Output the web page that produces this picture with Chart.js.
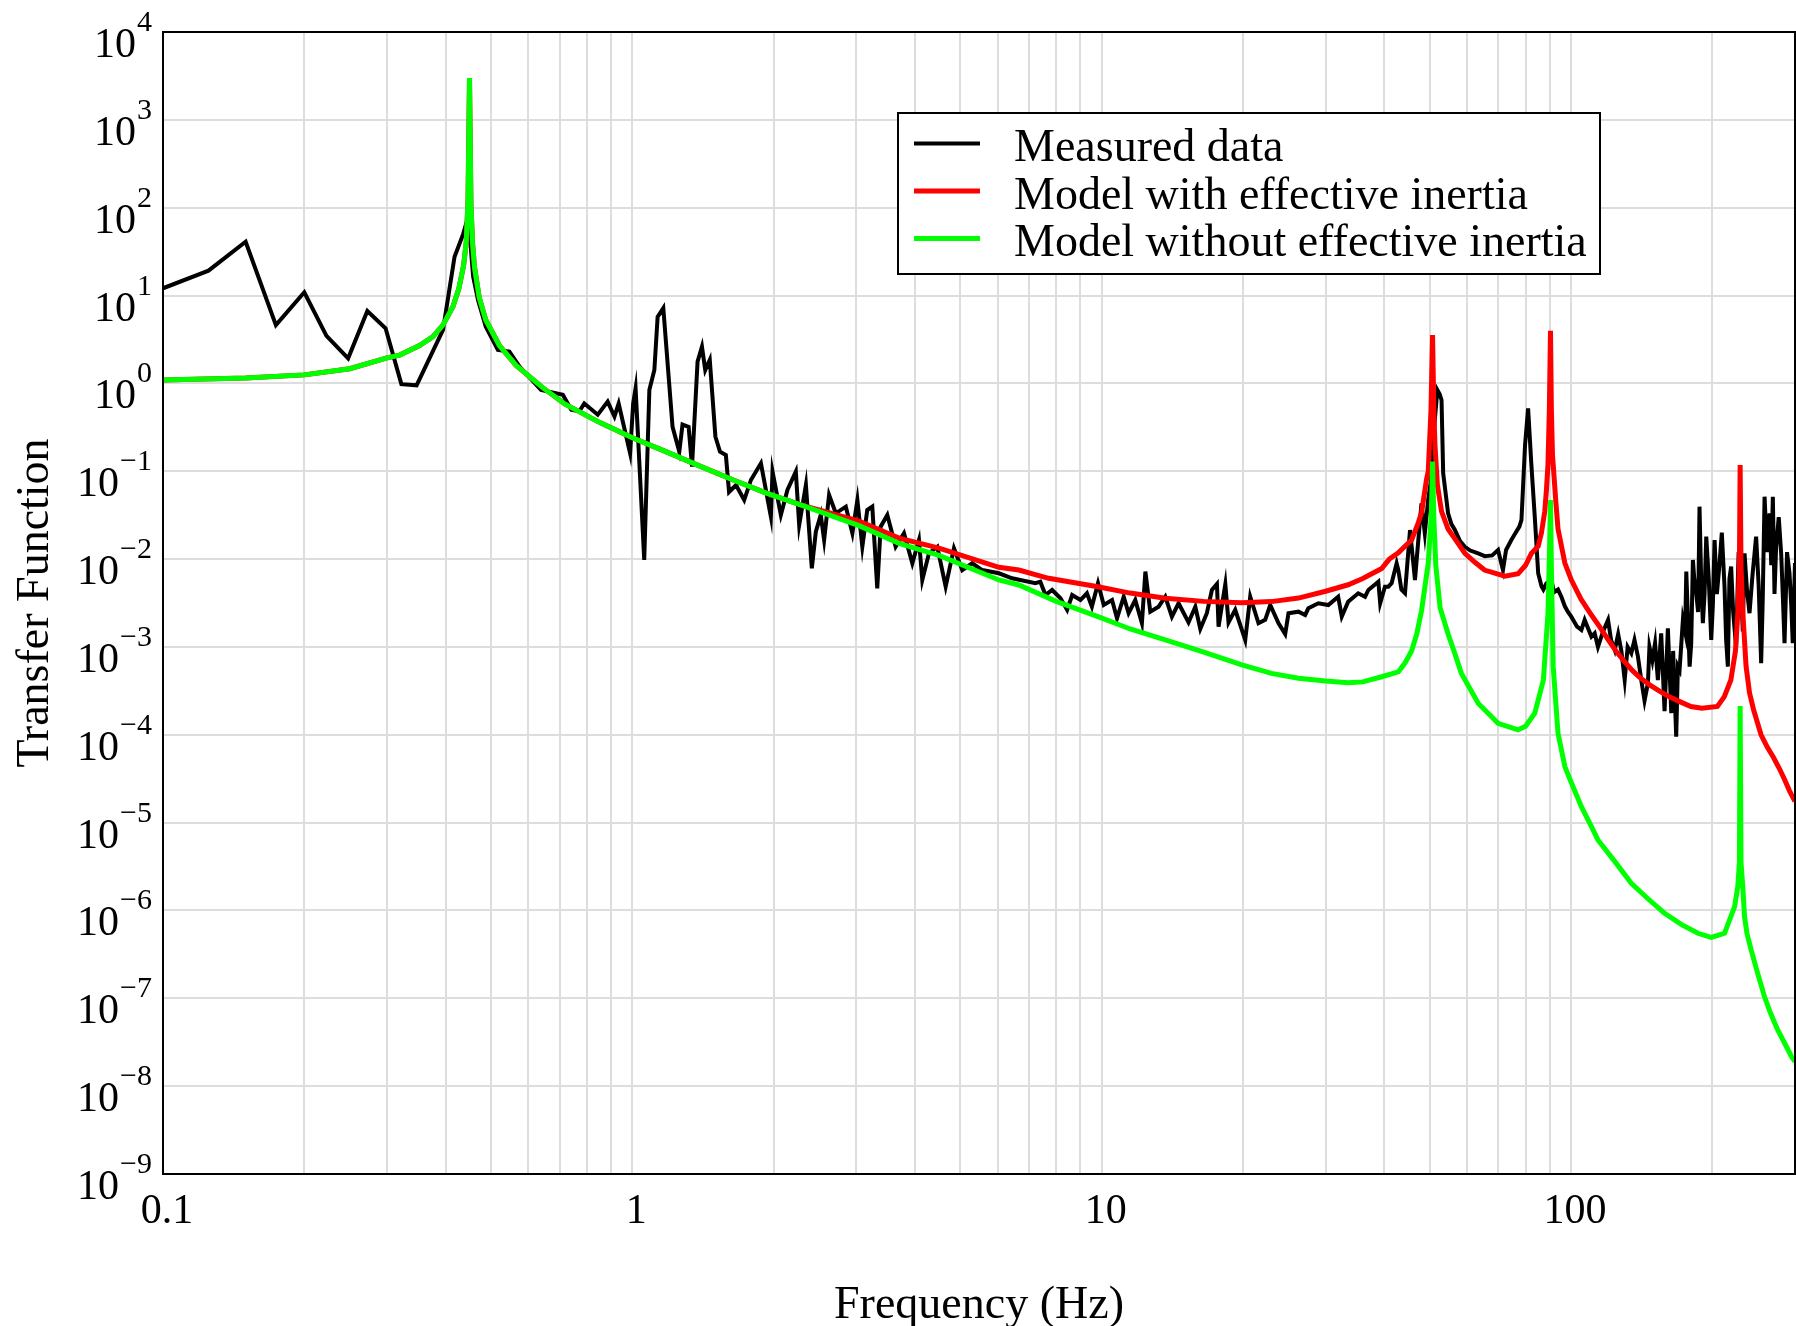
<!DOCTYPE html>
<html>
<head>
<meta charset="utf-8">
<script src="https://cdn.jsdelivr.net/npm/chart.js@4.4.1/dist/chart.umd.min.js"></script>
<style>
  html, body { margin: 0; padding: 0; background: #fff; }
</style>
</head>
<body>
<canvas id="tfChart" width="1796" height="1326"></canvas>
<script>
// axis ticks
const xGridValues = [0.1, 0.2, 0.3, 0.4, 0.5, 0.6, 0.7, 0.8, 0.9, 1, 2, 3, 4, 5, 6, 7, 8, 9,
  10, 20, 30, 40, 50, 60, 70, 80, 90, 100, 200, 300];
const xLabelValues = [0.1, 1, 10, 100];
const xLabelText = ['0.1', '1', '10', '100'];
const yTickValues = [1e4, 1e3, 1e2, 1e1, 1e0, 1e-1, 1e-2, 1e-3, 1e-4, 1e-5, 1e-6, 1e-7, 1e-8, 1e-9];
const yTickExponents = ['4', '3', '2', '1', '0', '\u22121', '\u22122', '\u22123', '\u22124', '\u22125', '\u22126', '\u22127', '\u22128', '\u22129'];

// measured transfer function
const measuredFreq = [0.1, 0.125, 0.15, 0.174, 0.2, 0.223, 0.248, 0.2725, 0.298, 0.322, 0.347, 0.395, 0.418, 0.436, 0.447,
  0.458, 0.469, 0.487, 0.517, 0.547, 0.575, 0.639, 0.711, 0.741, 0.771, 0.79, 0.844, 0.886, 0.916, 0.935, 0.989,
  1.004, 1.016, 1.06, 1.087, 1.114, 1.132, 1.164, 1.218, 1.259, 1.279, 1.318, 1.34, 1.377, 1.407, 1.43, 1.462,
  1.503, 1.537, 1.582, 1.607, 1.663, 1.731, 1.789, 1.879, 1.973, 1.989, 2.072, 2.14, 2.23, 2.267, 2.343, 2.412,
  2.46, 2.52, 2.562, 2.625, 2.713, 2.85, 2.943, 3.016, 3.09, 3.166, 3.245, 3.325, 3.381, 3.493, 3.639, 3.791,
  3.949, 4.08, 4.147, 4.285, 4.464, 4.651, 4.844, 5.045, 5.297, 5.564, 6.04, 6.443, 7.225, 7.4, 7.59, 7.84,
  8.17, 8.44, 8.65, 9.01, 9.3, 9.53, 9.82, 10.1, 10.52, 10.78, 11.14, 11.41, 11.79, 12.18, 12.39, 12.69, 13.22,
  13.66, 14.11, 14.58, 15.31, 15.83, 16.22, 16.75, 17.17, 17.6, 17.74, 18.34, 18.63, 19.25, 20.22, 20.72, 21.58,
  22.3, 22.86, 23.81, 24.6, 25.0, 26.25, 27.13, 27.56, 28.95, 30.4, 31.9, 32.47, 33.5, 35.2, 36.4, 37.0, 38.85,
  39.2, 40.13, 40.8, 41.46, 42.5, 42.85, 43.5, 44.28, 45.38, 46.5, 47.27, 48.0, 48.8, 49.6, 50.3, 50.9, 51.9,
  52.5, 52.97, 53.4, 54.7, 55.6, 56.57, 58, 59.4, 61, 63.4, 65.5, 67.9, 69.9, 71.6, 72.7, 74.6, 75.8, 77.6,
  78.4, 79.8, 81, 82.3, 83.7, 85.1, 86.5, 87.3, 88.6, 90.8, 92, 93.8, 95.4, 97, 98.5, 100.1, 103, 105.2, 106.9,
  110.5, 112.3, 114.1, 117, 119.9, 121.7, 123.9, 126, 128, 130.1, 132, 134.4, 136.5, 138.8, 141.1, 143.4,
  145.8, 146.9, 149, 151, 153.1, 155.6, 158.2, 160.8, 163.5, 165, 167.5, 168.9, 170.3, 173.1, 175, 176, 178.9,
  180.3, 181.8, 183, 184.8, 186.5, 187.8, 189.3, 190.9, 192.5, 194.1, 196.5, 198.9, 200.5, 202.2, 204.5, 207.2,
  209.5, 212.3, 214, 215.8, 217.5, 219.3, 221.5, 224.7, 227.5, 230.2, 232.2, 234.2, 237, 240, 243.5, 247.9, 251,
  254.1, 256, 258.4, 261.5, 264.8, 267, 269.1, 271.3, 273.5, 277, 280.3, 282.5, 285, 288.5, 292, 294.5, 296.7, 300];
const measuredTF = [12.1, 19.2, 41, 4.6, 10.9, 3.47, 1.93, 6.67, 4.24, 0.98, 0.95, 4.06, 27.7, 50, 79,
  16.4, 8.9, 4.43, 2.4, 2.3, 1.55, 0.84, 0.74, 0.5, 0.48, 0.59, 0.44, 0.62, 0.42, 0.59, 0.16,
  0.59, 0.88, 0.0098, 0.84, 1.42, 5.7, 7.2, 0.32, 0.167, 0.34, 0.32, 0.113, 1.77, 2.62, 1.42, 1.85,
  0.247, 0.167, 0.153, 0.058, 0.0697, 0.047, 0.0795, 0.123, 0.0304, 0.0989, 0.0318, 0.0612, 0.0989, 0.0244, 0.0697, 0.00785,
  0.0205, 0.0318, 0.0165, 0.0537, 0.0332, 0.0395, 0.0197, 0.047, 0.0138, 0.0362, 0.0395, 0.00465, 0.0234, 0.0318, 0.0138, 0.0197,
  0.00896, 0.0165, 0.00578, 0.01164, 0.0138, 0.00485, 0.0133, 0.0075, 0.00896, 0.0075, 0.00689, 0.00604, 0.00531, 0.00553, 0.0039, 0.00445,
  0.00358, 0.00264, 0.0039, 0.00342, 0.00408, 0.00287, 0.00531, 0.003, 0.00342, 0.00212, 0.00373, 0.00242, 0.00342, 0.00186, 0.0072, 0.00252, 0.00287,
  0.00373, 0.00221, 0.00314, 0.0019, 0.00287, 0.0016, 0.00242, 0.00445, 0.0052, 0.0017, 0.0052, 0.0019, 0.00264, 0.0012, 0.00373, 0.00186,
  0.00203, 0.003, 0.00186, 0.0014, 0.00242, 0.00252, 0.00231, 0.00275, 0.00314, 0.003, 0.00373, 0.00221, 0.00327, 0.00408, 0.00373, 0.00445, 0.00553,
  0.00314, 0.00485, 0.00485, 0.00531, 0.00896, 0.0075, 0.0045, 0.00408, 0.0214, 0.00578, 0.0165, 0.043, 0.0197, 0.047, 0.0795, 0.25, 0.84,
  0.75, 0.647, 0.0948, 0.0332, 0.025, 0.0214, 0.016, 0.0138, 0.0125, 0.0116, 0.0108, 0.011, 0.0127, 0.0075, 0.0127, 0.0165, 0.019, 0.0234,
  0.028, 0.2, 0.52, 0.12, 0.03, 0.0069, 0.0049, 0.0045, 0.0053, 0.0058, 0.0042, 0.0045, 0.0037, 0.0029, 0.0025, 0.00221, 0.0017, 0.00156, 0.00203,
  0.00131, 0.00143, 0.001, 0.0015, 0.00203, 0.0012, 0.00092, 0.0014, 0.0009, 0.00042, 0.001, 0.000847, 0.0012, 0.00078, 0.00042, 0.000244,
  0.000386, 0.001, 0.0007, 0.0011, 0.00042, 0.00143, 0.000186, 0.00163, 0.000176, 0.0009, 0.000095, 0.0006, 0.000547, 0.00203, 0.0015, 0.0072, 0.000596,
  0.0011, 0.00977, 0.006, 0.00408, 0.0025, 0.0395, 0.006, 0.00186, 0.004, 0.018, 0.006, 0.0012, 0.003, 0.0165, 0.004, 0.00896,
  0.02, 0.00485, 0.0012, 0.000596, 0.006, 0.0082, 0.0025, 0.001, 0.012, 0.00485, 0.0015, 0.01164, 0.0045, 0.00242, 0.0065, 0.018, 0.005,
  0.000652, 0.0032, 0.0513, 0.012, 0.0332, 0.0085, 0.0513, 0.004, 0.0138, 0.03, 0.01164, 0.004, 0.0011, 0.012, 0.00689, 0.003, 0.0011, 0.009];

// model with effective inertia
const inertiaFreq = [0.1, 0.15, 0.2, 0.25, 0.3, 0.3193, 0.352, 0.376, 0.3948, 0.4148, 0.4269, 0.437, 0.4426, 0.4465,
  0.4498, 0.453, 0.4565, 0.461, 0.4717, 0.487, 0.5209, 0.5655, 0.6432, 0.7189, 0.8509, 1.0, 1.179, 1.389, 1.636,
  1.918, 2.267, 3.04, 3.7, 4.5, 6.04, 6.66, 7.71, 9.82, 11.5, 13.66, 16.5, 19.89, 23, 26.25, 30, 33.5, 36, 39.5, 41,
  42.85, 44.28, 45.73, 47.27, 48.03, 49.2, 49.63, 50.3, 50.69, 51.0, 51.29, 51.9, 52.97, 54.7, 56.57, 59.4, 62.4,
  65.4, 72.3, 77.1, 80, 82.3, 85.1, 86.5, 87.9, 88.6, 89.3, 89.9, 90.4, 90.8, 91.3, 91.6, 92.8, 93.8, 97, 100.1, 105,
  110, 115, 120, 125, 130, 135, 140, 147, 155, 162, 170, 180, 190, 205, 212, 219, 224, 226.6, 228.4, 229.2, 230.2,
  232.3, 236, 240, 245, 254, 262, 270, 278, 285, 292, 300];
const inertiaTF = [1.09, 1.15, 1.25, 1.47, 1.95, 2.1, 2.7, 3.4, 4.6, 7.5, 12, 22, 40, 120,
  3000, 110, 40, 21, 9.5, 5.3, 2.7, 1.6, 0.9, 0.58, 0.36, 0.24, 0.167, 0.115, 0.08,
  0.057, 0.042, 0.027, 0.0173, 0.0133, 0.00807, 0.0075, 0.00604, 0.00485, 0.0041, 0.00358, 0.0033, 0.00319, 0.00328, 0.0036, 0.0043, 0.0051, 0.006, 0.0078, 0.01,
  0.0118, 0.014, 0.0165, 0.026, 0.034, 0.08, 0.1, 0.5, 3.56, 0.5, 0.2, 0.07, 0.035, 0.022, 0.017, 0.0116, 0.0092,
  0.0075, 0.0064, 0.0068, 0.0085, 0.0116, 0.014, 0.02, 0.035, 0.06, 0.12, 0.5, 3.98, 0.5, 0.15, 0.12, 0.045, 0.022, 0.009, 0.0058, 0.0035,
  0.0024, 0.0017, 0.0012, 0.00088, 0.00068, 0.00054, 0.00045, 0.00037, 0.00031, 0.00027, 0.00024, 0.00021, 0.0002, 0.00021, 0.00027, 0.00042, 0.0009, 0.0024, 0.0082, 0.118, 0.0082,
  0.0024, 0.0006, 0.0003, 0.00019, 0.0001, 0.000072, 0.000055, 0.000041, 0.000031, 0.000023, 0.0000175];

// model without effective inertia
const noInertiaFreq = [0.1, 0.15, 0.2, 0.25, 0.3, 0.3193, 0.352, 0.376, 0.3948, 0.4148, 0.4269, 0.437, 0.4426, 0.4465,
  0.4498, 0.453, 0.4565, 0.461, 0.4717, 0.487, 0.5209, 0.5655, 0.6432, 0.7189, 0.8509, 1.0, 1.179, 1.389, 1.636,
  1.918, 2.267, 3.04, 3.7, 4.5, 6.04, 6.66, 8, 9.82, 11.5, 13.66, 16.5, 19.89, 23, 26.25, 30, 33.5, 36, 39.5, 42.85,
  44.3, 45.73, 46.9, 48.03, 49.63, 50.4, 50.69, 51.0, 51.5, 52.6, 54.7, 56.5, 58.4, 63.4, 69.9, 77.1, 80, 83.7, 87.3,
  89.3, 90.0, 90.4, 90.8, 91.6, 93.8, 97, 100, 105.2, 110, 114.1, 124, 134.4, 146, 158.2, 172, 186.4, 198.9, 212.3,
  223, 226.6, 228.4, 229.2, 230.2, 232.3, 234.2, 237, 241.9, 250, 258.3, 266, 275.6, 285, 295, 300];
const noInertiaTF = [1.09, 1.15, 1.25, 1.47, 1.95, 2.1, 2.7, 3.4, 4.6, 7.5, 12, 22, 40, 120,
  3000, 110, 40, 21, 9.5, 5.3, 2.7, 1.6, 0.9, 0.58, 0.36, 0.24, 0.167, 0.115, 0.08,
  0.057, 0.042, 0.024, 0.0151, 0.011, 0.00578, 0.00507, 0.0033, 0.00221, 0.0016, 0.0012, 0.00087, 0.000624, 0.0005, 0.00044, 0.00041, 0.000392, 0.0004, 0.000458, 0.00052,
  0.00066, 0.0009, 0.0014, 0.0026, 0.009, 0.033, 0.1285, 0.03, 0.0085, 0.0028, 0.0014, 0.00085, 0.0005, 0.000229, 0.000135, 0.000114, 0.000125, 0.000176, 0.00042,
  0.0024, 0.0138, 0.047, 0.008, 0.0006, 0.000104, 4.34e-5, 2.9e-5, 1.52e-5, 9.5e-6, 6.35e-6, 3.6e-6, 2.04e-6, 1.35e-6, 9.3e-7, 6.9e-7, 5.5e-7, 4.95e-7, 5.5e-7,
  1.1e-6, 1.87e-6, 3.5e-6, 2.13e-4, 3.5e-6, 1.8e-6, 8.5e-7, 5.5e-7, 3.55e-7, 1.9e-7, 1.04e-7, 6.8e-8, 4.37e-8, 3.1e-8, 2.17e-8, 1.9e-8];

const serif = '"Liberation Serif", "DejaVu Serif", serif';
Chart.defaults.font.family = serif;
Chart.defaults.color = '#000';

function toPoints(freqs, values) {
  return freqs.map((f, i) => ({x: f, y: values[i]}));
}

// frame, y labels with exponents, boxed legend
const decorations = {
  id: 'decorations',
  afterDraw(chart) {
    const c = chart.ctx;
    const area = chart.chartArea;
    const yAxis = chart.scales.y;
    c.save();
    c.strokeStyle = '#000';
    c.lineWidth = 2;
    c.strokeRect(area.left, area.top, area.right - area.left, area.bottom - area.top);

    c.fillStyle = '#000';
    c.textAlign = 'right';
    c.textBaseline = 'alphabetic';
    yTickValues.forEach((v, i) => {
      const py = yAxis.getPixelForValue(v);
      const right = area.left - 11;
      c.font = '30px ' + serif;
      const expWidth = c.measureText(yTickExponents[i]).width;
      c.fillText(yTickExponents[i], right, py - 1);
      c.font = '42px ' + serif;
      c.fillText('10', right - expWidth - 1, py + 25);
    });

    const box = {left: 898, top: 113, right: 1600, bottom: 274};
    c.fillStyle = '#fff';
    c.fillRect(box.left, box.top, box.right - box.left, box.bottom - box.top);
    c.strokeStyle = '#000';
    c.lineWidth = 2;
    c.strokeRect(box.left, box.top, box.right - box.left, box.bottom - box.top);
    c.textAlign = 'left';
    c.font = '46px ' + serif;
    chart.data.datasets.forEach((ds, i) => {
      const base = 161 + i * 47.5;
      c.strokeStyle = ds.borderColor;
      c.lineWidth = ds.borderWidth;
      c.beginPath();
      c.moveTo(914, base - 17.5);
      c.lineTo(980, base - 17.5);
      c.stroke();
      c.fillStyle = '#000';
      c.fillText(ds.label, 1014, base);
    });
    c.restore();
  }
};

const tfChart = new Chart(document.getElementById('tfChart'), {
  type: 'line',
  data: {
    datasets: [
      {label: 'Measured data', data: toPoints(measuredFreq, measuredTF), borderColor: '#000000', borderWidth: 4, order: 2},
      {label: 'Model with effective inertia', data: toPoints(inertiaFreq, inertiaTF), borderColor: '#ff0000', borderWidth: 5, order: 1},
      {label: 'Model without effective inertia', data: toPoints(noInertiaFreq, noInertiaTF), borderColor: '#00ff00', borderWidth: 5, order: 0}
    ]
  },
  options: {
    responsive: false,
    devicePixelRatio: 1,
    animation: false,
    events: [],
    elements: {point: {radius: 0}, line: {tension: 0, fill: false}},
    layout: {padding: {top: 32, right: 1, left: 0, bottom: 0}},
    plugins: {legend: {display: false}, tooltip: {enabled: false}},
    scales: {
      x: {
        type: 'logarithmic',
        min: 0.1,
        max: 300,
        afterBuildTicks: (scale) => { scale.ticks = xGridValues.map(v => ({value: v})); },
        afterFit: (scale) => { scale.height = 152; },
        grid: {color: '#dddddd', lineWidth: 2, drawTicks: false},
        border: {display: false},
        ticks: {
          autoSkip: false,
          maxRotation: 0,
          padding: 0,
          labelOffset: 4,
          font: {size: 42, lineHeight: 1.81},
          callback: (value) => {
            const i = xLabelValues.indexOf(value);
            return i >= 0 ? xLabelText[i] : '';
          }
        },
        title: {display: true, text: 'Frequency (Hz)', font: {size: 46, lineHeight: 0.88}, padding: {top: 0, bottom: 0}}
      },
      y: {
        type: 'logarithmic',
        min: 1e-9,
        max: 1e4,
        afterBuildTicks: (scale) => { scale.ticks = yTickValues.map(v => ({value: v})); },
        afterFit: (scale) => { scale.width = 163; },
        grid: {color: '#dddddd', lineWidth: 2, drawTicks: false},
        border: {display: false},
        ticks: {display: false},
        title: {display: true, text: 'Transfer Function', font: {size: 46}, padding: {top: 8, bottom: 0}}
      }
    }
  },
  plugins: [decorations]
});
</script>
</body>
</html>
